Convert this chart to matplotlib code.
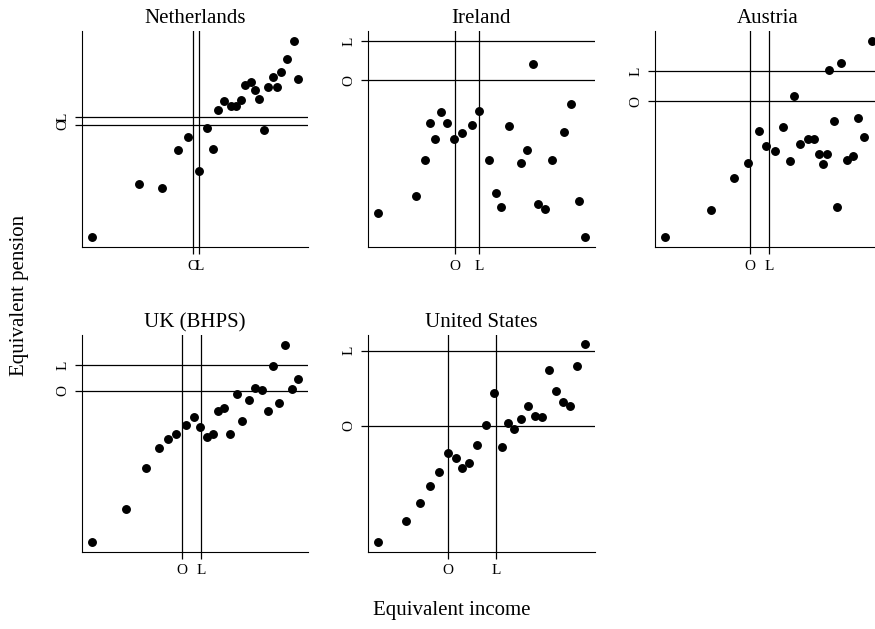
import matplotlib
matplotlib.use("Agg")
import matplotlib.pyplot as plt

plt.rcParams['font.family'] = ['Liberation Serif', 'DejaVu Serif']

countries = ["Netherlands", "Ireland", "Austria", "UK (BHPS)", "United States"]

nl_x = [4.3, 25.1, 35.4, 42.3, 46.9, 51.6, 55.3, 57.9, 60.3, 62.8, 65.8, 68.1, 70.2,
        72.3, 74.8, 76.5, 78.5, 80.5, 82.3, 84.5, 86.3, 88.2, 90.7, 93.7, 95.6]
nl_y = [4.8, 29.1, 27.5, 44.9, 50.8, 35.4, 55.2, 45.4, 63.4, 67.4, 65.5, 65.5, 68.0,
        75.2, 76.2, 72.9, 68.5, 54.0, 74.3, 78.5, 74.2, 81.1, 87.2, 95.5, 77.7]
nl_ol_x = [49.0, 51.9]
nl_ol_y = [56.5, 60.0]

ie_x = [4.4, 21.2, 24.9, 27.4, 29.4, 32.2, 35.0, 37.8, 41.3, 45.6, 48.9, 53.1, 56.5,
        58.5, 62.1, 67.2, 70.0, 72.6, 75.1, 77.9, 81.0, 86.2, 89.6, 92.9, 95.4]
ie_y = [15.7, 23.4, 40.3, 57.5, 50.2, 62.5, 57.4, 49.8, 52.9, 56.5, 63.1, 40.3, 25.2,
        18.3, 56.2, 38.8, 44.9, 84.5, 20.0, 17.8, 40.2, 53.2, 66.3, 21.5, 4.6]
ie_ol_x = [38.4, 49.1]
ie_ol_y = [77.2, 95.4]

at_x = [4.4, 24.9, 35.1, 41.0, 45.9, 49.1, 53.2, 56.6, 59.6, 61.4, 64.3, 67.6, 70.2,
        72.4, 74.3, 76.0, 77.1, 79.1, 80.4, 82.1, 84.8, 87.6, 89.8, 92.5, 95.9]
at_y = [4.6, 17.2, 32.0, 38.9, 53.7, 46.8, 44.6, 55.7, 39.8, 69.7, 47.8, 49.8, 50.0,
        43.1, 38.6, 43.2, 81.8, 58.5, 18.6, 85.1, 40.5, 42.0, 59.8, 50.9, 95.4]
at_ol_x = [41.9, 50.6]
at_ol_y = [67.4, 81.5]

uk_x = [4.3, 19.3, 28.3, 34.1, 38.1, 41.7, 45.9, 49.4, 52.4, 55.2, 58.0, 60.2, 62.8,
        65.5, 68.6, 70.9, 74.0, 76.5, 79.5, 82.2, 84.5, 87.2, 90.0, 92.8, 95.4]
uk_y = [4.6, 19.7, 38.5, 47.7, 52.0, 54.3, 58.6, 62.2, 57.8, 52.9, 54.3, 65.0, 66.2,
        54.5, 72.6, 60.3, 70.0, 75.7, 74.6, 65.1, 85.5, 68.5, 95.4, 75.1, 79.7]
uk_ol_x = [44.4, 52.7]
uk_ol_y = [74.3, 86.2]

us_x = [4.4, 16.8, 22.8, 27.2, 31.3, 35.3, 38.7, 41.6, 44.7, 48.1, 51.9, 55.4, 59.0,
        61.5, 64.4, 67.6, 70.6, 73.5, 76.5, 79.6, 82.8, 85.9, 89.1, 92.2, 95.4]
us_y = [4.5, 14.3, 22.6, 30.2, 36.8, 45.8, 43.5, 38.8, 40.9, 49.5, 58.6, 73.2, 48.4,
        59.4, 56.8, 61.5, 67.5, 62.5, 62.2, 83.8, 74.3, 68.9, 67.1, 85.7, 96.0]
us_ol_x = [35.3, 56.6]
us_ol_y = [58.2, 92.8]

tick_labels = ["O", "L"]

panels = [
    (nl_x, nl_y, nl_ol_x, nl_ol_y),
    (ie_x, ie_y, ie_ol_x, ie_ol_y),
    (at_x, at_y, at_ol_x, at_ol_y),
    (uk_x, uk_y, uk_ol_x, uk_ol_y),
    (us_x, us_y, us_ol_x, us_ol_y),
]

W, H = 875, 629
fig = plt.figure(figsize=(W / 100, H / 100), dpi=100)

# axes positions in pixels: (left, top, width, height)
boxes = [
    (82, 31, 226, 216),
    (368, 31, 227, 216),
    (655, 31, 226, 216),
    (82, 335, 226, 217),
    (368, 335, 227, 217),
]

for name, (xs, ys, olx, oly), (l, t, w, h) in zip(countries, panels, boxes):
    ax = fig.add_axes([l / W, 1 - (t + h) / H, w / W, h / H])
    ax.set_xlim(0, 100)
    ax.set_ylim(0, 100)
    for s in ["top", "right"]:
        ax.spines[s].set_visible(False)
    for s in ["left", "bottom"]:
        ax.spines[s].set_linewidth(0.8)
    for v in olx:
        ax.axvline(v, color="black", lw=0.9)
    for v in oly:
        ax.axhline(v, color="black", lw=0.9)
    ax.plot(xs, ys, "o", color="black", ms=5.4, clip_on=False)
    ax.set_xticks(olx)
    ax.set_xticklabels(tick_labels)
    ax.set_yticks(oly)
    ax.set_yticklabels(tick_labels, rotation=90, va="center")
    ax.tick_params(axis="both", length=5, width=0.9, labelsize=11, pad=4)
    ax.set_title(name, fontsize=15, pad=5.5)

fig.text(20 / W, 1 - 295 / H, "Equivalent pension", rotation=90,
         ha="center", va="center", fontsize=15)
fig.text(452 / W, 1 - 611 / H, "Equivalent income",
         ha="center", va="center", fontsize=15)

fig.savefig("out.png", dpi=100)
